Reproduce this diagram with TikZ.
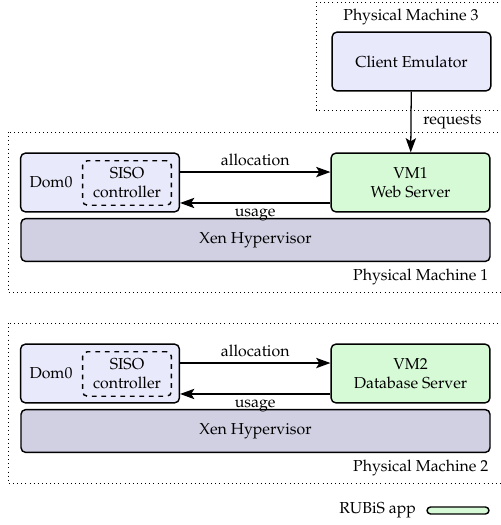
\documentclass[tikz,border=0pt]{standalone}
\usepackage[T1]{fontenc}
\usepackage{mathpazo}
\usetikzlibrary{arrows.meta}

\definecolor{domfill}{RGB}{233,233,252}
\definecolor{vmfill}{RGB}{214,250,214}
\definecolor{xenfill}{RGB}{208,208,226}

\begin{document}
\begin{tikzpicture}
  [x=0.63pt,y=-0.63pt,
   box/.style={draw,rounded corners=3pt,line width=0.9pt,align=center,inner sep=0pt},
   dom/.style={box,fill=domfill,minimum width=100pt,minimum height=37pt},
   vm/.style={box,fill=vmfill,minimum width=100pt,minimum height=37pt},
   xen/.style={box,fill=xenfill,minimum width=295.5pt,minimum height=27pt},
   ctrl/.style={box,dashed,minimum width=56pt,minimum height=28pt},
   machine/.style={dotted,line width=0.6pt},
   link/.style={line width=0.8pt,arrows={-Stealth[inset=2pt,length=9pt,width=6.5pt]}}]
  \useasboundingbox (0,0) rectangle (500,525);

  % physical machine 3
  \draw[machine] (316,2) rectangle (520,110);
  \node (pm3) at (411,17) {Physical Machine 3};
  \node[dom] (client) at (411.5,61.5) {Client Emulator};

  % physical machines 1 and 2
  \foreach \i/\dy/\srv in {1/0/Web Server, 2/191/Database Server}{
    \begin{scope}[shift={(0,\dy)}]
      \draw[machine] (8,132) rectangle (520,292);
      \node[anchor=east] (pm\i) at (494,277) {Physical Machine \i};
      \node[dom] (dom\i) at (100,182.5) {};
      \node (domname\i) at (51,182.5) {Dom0};
      \node[ctrl] (siso\i) at (127,183) {SISO\\controller};
      \node[vm] (vm\i) at (410.5,182.5) {VM\i\\\srv};
      \node[xen] (xen\i) at (255.5,240) {Xen Hypervisor};
      \draw[link] ([yshift=6.6pt]dom\i.east) -- node[above] {allocation} ([yshift=6.6pt]vm\i.west);
      \draw[link] ([yshift=-12.9pt]vm\i.west) -- node[below] {usage} ([yshift=-12.9pt]dom\i.east);
    \end{scope}
  }

  \draw[link] (client) -- node[right=4pt] {requests} (vm1);

  % legend
  \node[box,fill=vmfill,minimum width=39pt,minimum height=4.4pt,rounded corners=2.2pt] (app) at (458,510.5) {};
  \node[left=3pt] (appname) at (app.west) {RUBiS app};
\end{tikzpicture}
\end{document}
